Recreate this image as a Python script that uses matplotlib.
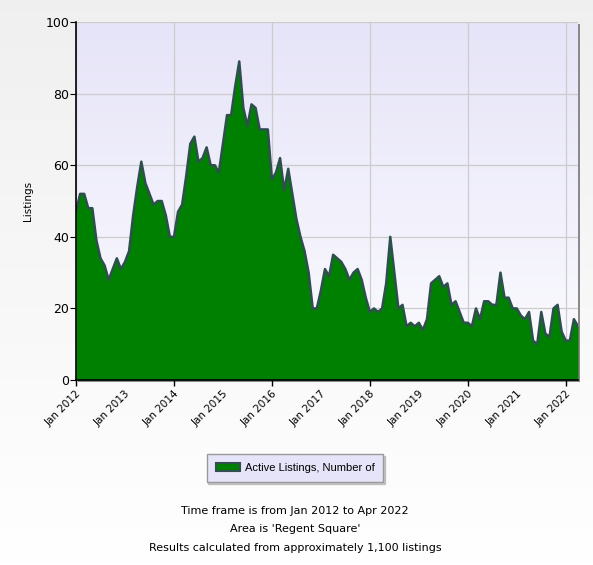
import matplotlib
matplotlib.use('Agg')
import matplotlib.pyplot as plt
import numpy as np
from matplotlib.patches import Patch, Rectangle

# monthly active listings, Jan 2012 .. Apr 2022
listings = [47, 52, 52, 48, 48, 39, 34, 32, 28, 31, 34, 31,
            33, 36, 46, 54, 61, 55, 52, 49, 50, 50, 46, 40,
            40, 47, 49, 57, 66, 68, 61, 62, 65, 60, 60, 58,
            66, 74, 74, 82, 89, 76, 71, 77, 76, 70, 70, 70,
            56, 58, 62, 53, 59, 52, 45, 40, 36, 30, 20, 20,
            25, 31, 29, 35, 34, 33, 31, 28, 30, 31, 28, 23,
            19, 20, 19, 20, 27, 40, 30, 20, 21, 15, 16, 15,
            16, 14, 17, 27, 28, 29, 26, 27, 21, 22, 19, 16,
            16, 15, 20, 17, 22, 22, 21, 21, 30, 23, 23, 20,
            20, 18, 17, 19, 11, 10, 19, 13, 12, 20, 21, 13.5,
            11, 11, 17, 15]
years = list(range(2012, 2023))
year_labels = ['Jan %d' % y for y in years]
series_name = 'Active Listings, Number of'
notes = ["Time frame is from Jan 2012 to Apr 2022",
         "Area is 'Regent Square'",
         "Results calculated from approximately 1,100 listings"]

months = np.arange(len(listings))

fig = plt.figure(figsize=(5.93, 5.65), dpi=100)

# figure background gradient (light gray top -> white bottom)
bg = fig.add_axes([0, 0, 1, 1], zorder=-10)
grad = np.linspace(0, 1, 256).reshape(-1, 1)
c_top = np.array([0.94, 0.94, 0.94])
c_bot = np.array([1.0, 1.0, 1.0])
img = c_top + (c_bot - c_top) * grad[:, :, None]
bg.imshow(img, aspect='auto', extent=[0, 1, 0, 1])
bg.axis('off')

l, b, w, h = 0.1282, 0.3274, 0.8465, 0.6336
# drop shadow for plot area
fig.patches.append(Rectangle((l + 0.004, b - 0.004), w, h, transform=fig.transFigure,
                             facecolor='#8a8a8a', edgecolor='none', zorder=-5))
ax = fig.add_axes([l, b, w, h])

# plot area gradient
pg = np.linspace(0, 1, 256).reshape(-1, 1)
p_top = np.array([0xe6, 0xe4, 0xf8]) / 255
p_bot = np.array([0xfc, 0xfc, 0xff]) / 255
pimg = p_top + (p_bot - p_top) * pg[:, :, None]
ax.imshow(pimg, aspect='auto', extent=[0, len(listings) - 1, 0, 100], zorder=0)

ax.fill_between(months, listings, 0, color='#008000', zorder=3, linewidth=0)
ax.plot(months, listings, color='#2f4f4f', lw=1.8, zorder=4)

ax.set_xlim(0, len(listings) - 1)
ax.set_ylim(0, 100)

# labels every year, ticks + grid only every other year
year_pos = [(y - 2012) * 12 for y in years]
ax.xaxis.remove_overlapping_locs = False
ax.set_xticks(year_pos)
ax.set_xticklabels(year_labels, rotation=45, ha='right', rotation_mode='anchor', fontsize=7.5)
ax.set_xticks(year_pos[::2], minor=True)
ax.tick_params(axis='x', which='major', length=0, pad=6)
ax.tick_params(axis='x', which='minor', length=4, width=1, direction='out',
               gridOn=True, grid_color='#cccccc', grid_linewidth=0.9)

ax.set_yticks(range(0, 101, 20))
ax.tick_params(axis='y', labelsize=9, length=4, pad=1)
ax.grid(axis='y', which='major', color='#cccccc', lw=0.9)
ax.set_axisbelow(True)

ax.set_ylabel('Listings', fontsize=7.5, labelpad=9)

for s in ['top', 'right']:
    ax.spines[s].set_visible(False)
ax.spines['left'].set_linewidth(1.2)
ax.spines['bottom'].set_linewidth(1.2)
ax.spines['left'].set_zorder(5)
ax.spines['bottom'].set_zorder(5)

leg = fig.legend(handles=[Patch(facecolor='#008000', edgecolor='#2f4f4f', lw=1.5, label=series_name)],
                 loc='center', bbox_to_anchor=(0.4975, 0.1717),
                 prop={'family': 'Liberation Sans', 'size': 8},
                 fancybox=False, shadow={'ox': 1.2, 'oy': -1.2, 'color': '#999999'},
                 framealpha=1, borderpad=0.8,
                 handlelength=2.2, handleheight=0.8, handletextpad=0.4)
leg.get_frame().set_facecolor('#e6e4f8')
leg.get_frame().set_edgecolor('#999999')

for i, t in enumerate(notes):
    fig.text(0.4975, 1 - (511 + i * 18.5) / 565, t, ha='center', va='center', fontsize=8)

fig.savefig('out.png', dpi=100)
